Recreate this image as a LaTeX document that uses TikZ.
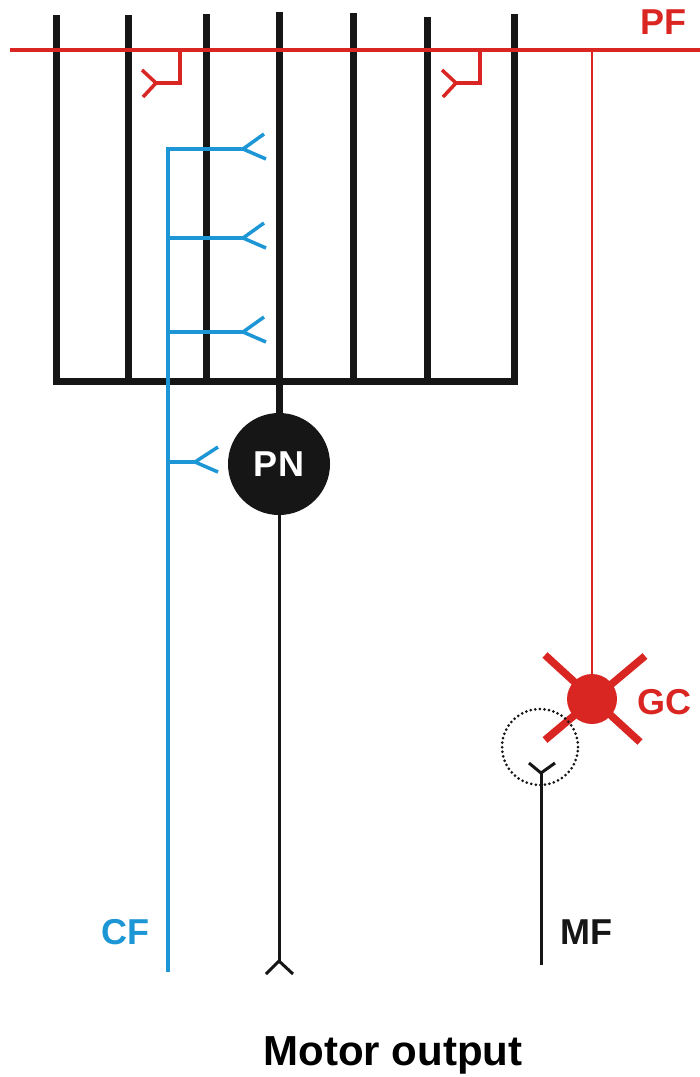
\documentclass[tikz,border=0pt]{standalone}
\usepackage{fontspec}
\setmainfont{Liberation Sans}
\definecolor{pfred}{RGB}{218,38,34}
\definecolor{cfblue}{RGB}{28,150,212}
\definecolor{ink}{RGB}{22,22,22}
\begin{document}
\begin{tikzpicture}[x=1pt,y=-1pt,
  dend/.style={draw=ink,line width=7pt},
  axon/.style={draw=ink,line width=3pt},
  pfline/.style={draw=pfred,line width=3.2pt},
  synred/.style={draw=pfred,line width=3.5pt},
  cfline/.style={draw=cfblue,line width=3.5pt},
  spike/.style={draw=pfred,line width=7.5pt},
  lbl/.style={font=\bfseries\fontsize{36}{36}\selectfont,inner sep=0pt},
  big/.style={font=\bfseries\fontsize{42}{42}\selectfont,inner sep=0pt}]
\useasboundingbox (0,0) rectangle (700,1077);

% Purkinje dendrites
\coordinate (base1) at (56,381);
\coordinate (base7) at (514,381);
\foreach \x/\t in {56/15,128/15,206/14,279/12,353/13,427/17,514/14}
  \draw[dend] (\x,\t) -- (\x,381);
\draw[dend,line cap=rect] (base1) -- (base7);

% Purkinje neuron
\node[circle,fill=ink,minimum size=102pt,inner sep=0pt,text=white,lbl] (PN) at (279,464) {PN};
\draw[dend] (279,381) -- (PN.north);
\coordinate (pnfork) at (279,961);
\draw[axon] (PN.south) -- (pnfork);
\draw[axon] (266,974) -- (pnfork) -- (293,974);

% Parallel fibre
\coordinate (pfL) at (10,50);
\coordinate (pfR) at (700,50);
\coordinate (pfT) at (592,50);
\draw[pfline] (pfL) -- (pfR);
\node[lbl,text=pfred] (PF) at (663,22) {PF};

% PF synapses
\foreach \x in {180,480}{
  \draw[synred] (\x,50) -- (\x,83) -- (\x-24,83);
  \draw[synred] (\x-38,70) -- (\x-24,83) -- (\x-37,97);
}

% Granule cell
\node[circle,fill=pfred,minimum size=50pt,inner sep=0pt] (GC) at (592,699) {};
\draw[pfline,line width=2.6pt] (pfT) -- (GC.north);
\draw[spike] (545,655) -- (640,742);
\draw[spike] (645,656) -- (545,740);
\node[lbl,text=pfred,anchor=west] (GClbl) at (637,702) {GC};

% Mossy fibre and glomerulus
\node[circle,draw=ink,line width=3pt,dash pattern=on 0pt off 4.6pt,line cap=round,minimum size=76pt,inner sep=0pt] (glom) at (540,747) {};
\coordinate (mffork) at (541,773);
\coordinate (mfend) at (541,965);
\draw[axon] (mfend) -- (mffork);
\draw[axon] (529,763) -- (mffork) -- (555,763);
\node[lbl,text=ink,anchor=west] (MF) at (560,932) {MF};

% Climbing fibre
\coordinate (cftop) at (168,149);
\coordinate (cfend) at (168,972);
\draw[cfline] (243,149) -- (cftop) -- (cfend);
\foreach \y in {149,238,332}{
  \draw[cfline] (168,\y) -- (243,\y);
  \draw[cfline] (264,\y-15) -- (243,\y) -- (266,\y+10);
}
\draw[cfline] (168,462) -- (195,462);
\draw[cfline] (218,447) -- (195,462) -- (218,472);
\node[lbl,text=cfblue,anchor=east] (CF) at (150,932) {CF};

% Caption
\node[big,text=black] (motor) at (393,1055) {Motor output};
\end{tikzpicture}
\end{document}
